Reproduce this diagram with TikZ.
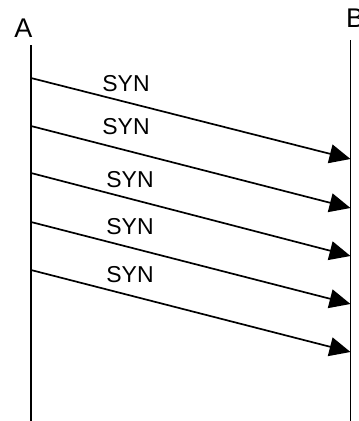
\documentclass[tikz,border=0pt]{standalone}
\usepackage{fontspec}
\setmainfont{Liberation Sans}
\usetikzlibrary{arrows.meta}
\begin{document}
\begin{tikzpicture}[x=1pt,y=-1pt,
  life/.style={line width=1.8pt},
  msg/.style={line width=1.7pt,-{Triangle[length=21pt,width=19pt]}},
  lbl/.style={font=\fontsize{23}{23}\selectfont,inner sep=0pt},
  party/.style={font=\fontsize{27}{27}\selectfont,inner sep=0pt}]
\useasboundingbox (0,0) rectangle (359,421);
% participants
\node[party] (A) at (23.5,28) {A};
\node[party,anchor=west] (B) at (346,18.5) {B};
% lifelines
\coordinate (atop) at (31,45);
\coordinate (abot) at (31,421);
\coordinate (btop) at (350.5,40);
\coordinate (bbot) at (350.5,421);
\draw[life] (atop) -- (abot);
\draw[life] (btop) -- (bbot);
% message end points
\foreach \i/\ys/\ye in {1/78/159, 2/126/208, 3/173/256, 4/222/304, 5/270/352}{
  \coordinate (s\i) at (31,\ys);
  \coordinate (e\i) at (350.5,\ye);
  \draw[msg] (s\i) -- (e\i);
}
% labels
\node[lbl] (l1) at (126,84) {SYN};
\node[lbl] (l2) at (126,127) {SYN};
\node[lbl] (l3) at (130,180) {SYN};
\node[lbl] (l4) at (130,227) {SYN};
\node[lbl] (l5) at (130,275) {SYN};
\end{tikzpicture}
\end{document}
